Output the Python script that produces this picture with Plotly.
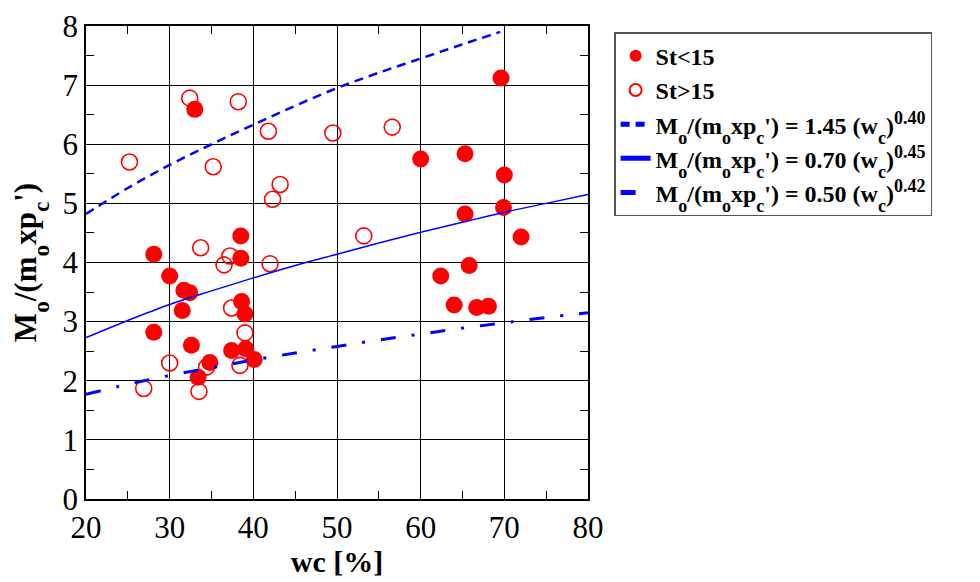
import plotly.graph_objects as go

# Data
st_lt15_x = [33.0, 69.6, 60.0, 65.3, 70.0, 69.9, 65.3, 72.0, 65.8, 62.4, 64.0, 66.7, 68.1,
             28.1, 30.0, 31.7, 32.4, 31.5, 28.1, 32.6, 38.6, 39.0, 37.4, 39.1, 40.1, 34.8,
             33.4, 38.5, 38.5]
st_lt15_y = [6.59, 7.12, 5.75, 5.84, 5.48, 4.93, 4.82, 4.43, 3.95, 3.77, 3.28, 3.24, 3.26,
             4.14, 3.77, 3.53, 3.49, 3.19, 2.82, 2.60, 3.34, 3.13, 2.51, 2.54, 2.36, 2.31,
             2.06, 4.07, 4.45]

st_gt15_x = [32.4, 38.2, 41.8, 49.5, 25.2, 35.2, 43.2, 42.3, 33.7, 56.6, 53.2, 37.2, 36.5,
             42.0, 37.4, 39.0, 30.0, 34.4, 38.4, 26.9, 33.5]
st_gt15_y = [6.78, 6.72, 6.22, 6.19, 5.70, 5.62, 5.32, 5.07, 4.25, 6.29, 4.45, 4.11, 3.96,
             3.98, 3.23, 2.81, 2.30, 2.23, 2.26, 1.87, 1.82]

upper_x = [20, 25, 30, 35, 40, 45, 50, 55, 60, 65, 69.5]
upper_y = [4.82, 5.26, 5.65, 6.00, 6.33, 6.65, 6.95, 7.21, 7.45, 7.69, 7.90]

mid_x = [20, 25, 30, 35, 40, 45, 50, 55, 60, 65, 70, 75, 80]
mid_y = [2.73, 3.02, 3.29, 3.52, 3.74, 3.95, 4.14, 4.33, 4.51, 4.68, 4.85, 5.00, 5.15]

low_x = [20, 25, 30, 35, 40, 45, 50, 55, 60, 65, 70, 75, 80]
low_y = [1.77, 1.94, 2.09, 2.22, 2.35, 2.47, 2.58, 2.69, 2.79, 2.89, 2.98, 3.07, 3.15]

x_ticks = [20, 30, 40, 50, 60, 70, 80]
y_ticks = [0, 1, 2, 3, 4, 5, 6, 7, 8]

FONT = "Liberation Serif"
RED = "#ff0000"
BLUE = "#0000ff"


def sub(t):
    return '<span style="font-size:75%;baseline-shift:sub">' + t + '</span>'


def sup(t):
    return '<span style="font-size:75%;baseline-shift:super">' + t + '</span>'


ratio = "M" + sub("o") + "/(m" + sub("o") + "xp" + sub("c") + "')"


def law(a, b):
    return "<b>" + ratio + " = " + a + " (w" + sub("c") + ")" + sup(b) + "</b>"


fig = go.Figure()
fig.add_trace(go.Scatter(x=st_lt15_x, y=st_lt15_y, mode="markers", name="<b>St&lt;15</b>",
                         marker=dict(symbol="circle", size=17, color=RED, line=dict(width=0))))
fig.add_trace(go.Scatter(x=st_gt15_x, y=st_gt15_y, mode="markers", name="<b>St&gt;15</b>",
                         marker=dict(symbol="circle-open", size=16, color=RED, line=dict(width=1.6, color=RED))))
fig.add_trace(go.Scatter(x=upper_x, y=upper_y, mode="lines", name=law("1.45", "0.40"),
                         line=dict(color=BLUE, width=2.5, dash="9px,6px", shape="spline")))
fig.add_trace(go.Scatter(x=mid_x, y=mid_y, mode="lines", name=law("0.70", "0.45"),
                         line=dict(color=BLUE, width=1.5, shape="spline")))
fig.add_trace(go.Scatter(x=low_x, y=low_y, mode="lines", name=law("0.50", "0.42"),
                         line=dict(color=BLUE, width=3, dash="15px,16px,3px,16px", shape="spline")))

axis_common = dict(
    showline=True, linecolor="black", linewidth=1.5, mirror="allticks",
    showgrid=True, gridcolor="black", gridwidth=1,
    ticks="inside", ticklen=0, tickcolor="black",
    zeroline=False, automargin=False,
    tickfont=dict(family=FONT, size=31, color="black"),
)

fig.update_xaxes(range=[20, 80], tickvals=x_ticks, ticktext=[str(v) for v in x_ticks],
                 minor=dict(dtick=5, ticks="inside", ticklen=8, tickcolor="black", showgrid=False),
                 title=dict(text="<b>wc [%]</b>", font=dict(family=FONT, size=30, color="black"), standoff=6),
                 **axis_common)
fig.update_yaxes(range=[0, 8], tickvals=y_ticks, ticktext=[str(v) for v in y_ticks],
                 minor=dict(dtick=0.5, ticks="inside", ticklen=8, tickcolor="black", showgrid=False),
                 title=dict(text="<b>" + ratio + "</b>", font=dict(family=FONT, size=31, color="black"), standoff=18),
                 **axis_common)

fig.update_layout(
    width=980, height=582,
    margin=dict(l=78, r=400, t=18, b=91),
    plot_bgcolor="white", paper_bgcolor="white",
    font=dict(family=FONT, color="black"),
    legend=dict(x=1.052, y=0.987, xanchor="left", yanchor="top",
                bordercolor="#555555", borderwidth=1.5, bgcolor="white",
                font=dict(family=FONT, size=24, color="black"),
                itemsizing="constant", tracegroupgap=2),
    showlegend=True,
)

fig.write_html("out.html")
